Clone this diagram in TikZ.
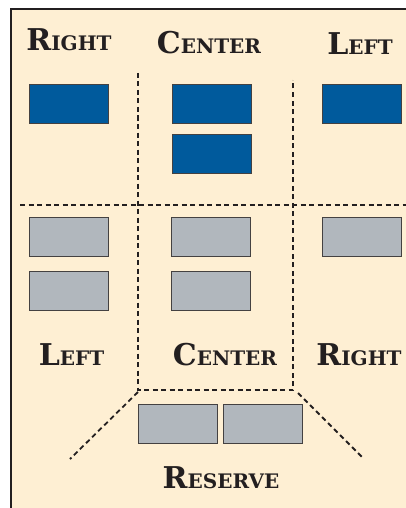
\documentclass[tikz,border=0pt]{standalone}
\usepackage{fontspec}
\setmainfont{DejaVu Serif}
\definecolor{cream}{HTML}{FEEFD3}
\definecolor{navy}{HTML}{005A9C}
\definecolor{slate}{HTML}{B1B7BD}
\definecolor{ink}{HTML}{231F20}
\newcommand\smcap[2]{{\fontsize{30}{30}\selectfont\bfseries #1}{\fontsize{20}{20}\selectfont\bfseries #2}}
\begin{document}
\begin{tikzpicture}[x=1pt,y=-1pt,
  unit/.style={draw=ink!85, line width=0.8pt, minimum width=79pt, minimum height=39pt, inner sep=0pt},
  bluebox/.style={unit, fill=navy},
  graybox/.style={unit, fill=slate},
  lbl/.style={anchor=base, text=ink, inner sep=0pt},
  dline/.style={draw=ink, line width=1.8pt, dash pattern=on 5pt off 3.5pt}]
\useasboundingbox (0,0) rectangle (406,508);
\fill[white] (0,0) rectangle (406,508);
\fill[cream] (11,9) rectangle (406,508);
\draw[ink, line width=1.5pt] (11,508) -- (11,9) -- (406,9);
% labels
\node[lbl] (tright) at (69,51) {\smcap{R}{IGHT}};
\node[lbl] (tcenter) at (209,54) {\smcap{C}{ENTER}};
\node[lbl] (tleft) at (360,55) {\smcap{L}{EFT}};
\node[lbl] (bleft) at (71.5,365) {\smcap{L}{EFT}};
\node[lbl] (bcenter) at (225,365) {\smcap{C}{ENTER}};
\node[lbl] (bright) at (359,365) {\smcap{R}{IGHT}};
\node[lbl] (reserve) at (221,488) {\smcap{R}{ESERVE}};
% blue units
\node[bluebox] (b1) at (69,103.5) {};
\node[bluebox] (b2) at (212,103.5) {};
\node[bluebox] (b3) at (212,153.5) {};
\node[bluebox] (b4) at (362,103.5) {};
% gray units
\node[graybox] (g1) at (69,237) {};
\node[graybox] (g2) at (69,291) {};
\node[graybox] (g3) at (211,237) {};
\node[graybox] (g4) at (211,291) {};
\node[graybox] (g5) at (362,237) {};
\node[graybox] (r1) at (178,424) {};
\node[graybox] (r2) at (263,424) {};
% dashed lines
\draw[dline] (20,205) -- (406,205);
\draw[dline] (138,73) -- (138,390) -- (293,390) -- (293,80);
\draw[dline] (138,392) -- (70,459);
\draw[dline] (298,393) -- (362,457);
\end{tikzpicture}
\end{document}
